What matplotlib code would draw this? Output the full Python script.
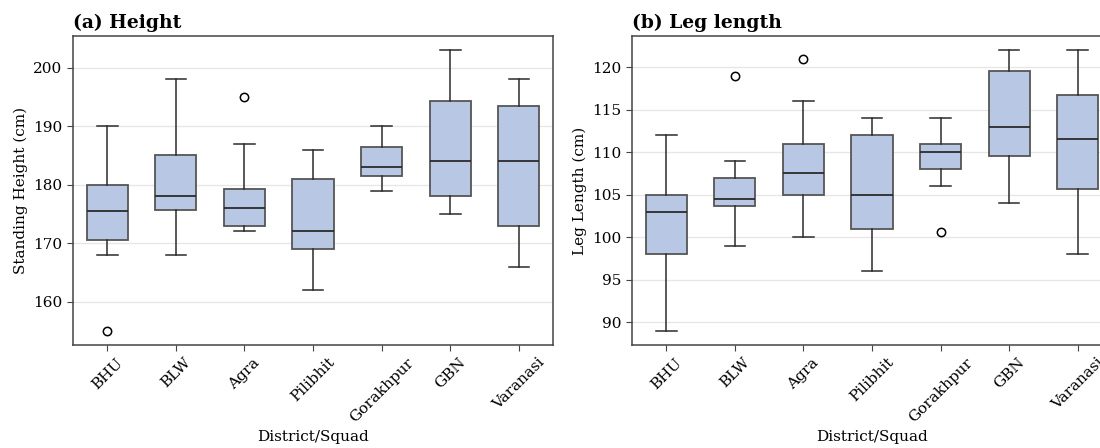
import matplotlib
matplotlib.use("Agg")
from matplotlib import pyplot as plt

# values
districts = ["BHU", "BLW", "Agra", "Pilibhit", "Gorakhpur", "GBN", "Varanasi"]

# standing height (cm)
h_low = [168, 168, 172, 162, 179, 175, 166]
h_q1 = [170.5, 175.7, 173, 169, 181.5, 178, 173]
h_med = [175.5, 178, 176, 172, 183, 184, 184]
h_q3 = [180, 185, 179.2, 181, 186.4, 194.3, 193.4]
h_high = [190, 198, 187, 186, 190, 203, 198]
h_out = [[155], [], [195], [], [], [], []]

# leg length (cm)
l_low = [89, 99, 100, 96, 106, 104, 98]
l_q1 = [98, 103.7, 105, 101, 108, 109.5, 105.7]
l_med = [103, 104.5, 107.5, 105, 110, 113, 111.5]
l_q3 = [105, 107, 111, 112, 111, 119.5, 116.7]
l_high = [112, 109, 116, 114, 114, 122, 122]
l_out = [[], [119], [121], [], [100.6], [], []]

plt.rcParams["font.family"] = ["DejaVu Serif"]
plt.rcParams["font.size"] = 11

fill = "#b8c7e4"
edge = "#555555"
dark = "#2b2b2b"


def make_stats(low, q1, med, q3, high, out):
    stats = []
    for i in range(len(low)):
        stats.append({"whislo": low[i], "q1": q1[i], "med": med[i], "q3": q3[i],
                      "whishi": high[i], "fliers": out[i], "label": districts[i]})
    return stats


def draw(ax, stats, title, ylabel):
    ax.bxp(stats, positions=range(len(stats)), widths=0.6, patch_artist=True,
           boxprops=dict(facecolor=fill, edgecolor=edge, linewidth=1.3),
           medianprops=dict(color=dark, linewidth=1.3),
           whiskerprops=dict(color=dark, linewidth=1.1),
           capprops=dict(color=dark, linewidth=1.1),
           flierprops=dict(marker="o", markerfacecolor="white", markeredgecolor="black",
                           markersize=6, markeredgewidth=1.1))
    ax.set_xlim(-0.5, len(stats) - 0.5)
    ax.margins(y=0.05)
    ax.grid(axis="y", color="#e6e6e6", linewidth=0.9)
    ax.set_axisbelow(True)
    for s in ax.spines.values():
        s.set_color("#444444")
        s.set_linewidth(1.1)
    ax.tick_params(axis="both", color="#444444", length=4)
    ax.set_xticks(range(len(stats)))
    ax.set_xticklabels(districts, rotation=45)
    ax.set_title(title, loc="left", fontweight="bold", fontsize=13.5)
    ax.set_ylabel(ylabel)
    ax.set_xlabel("District/Squad")


fig = plt.figure(figsize=(11, 4.48), dpi=100)
ax1 = fig.add_axes([0.0664, 0.2299, 0.4364, 0.6897])
ax2 = fig.add_axes([0.5745, 0.2299, 0.4364, 0.6897])

draw(ax1, make_stats(h_low, h_q1, h_med, h_q3, h_high, h_out), "(a) Height", "Standing Height (cm)")
draw(ax2, make_stats(l_low, l_q1, l_med, l_q3, l_high, l_out), "(b) Leg length", "Leg Length (cm)")
ax1.set_yticks([160, 170, 180, 190, 200])
ax2.set_yticks([90, 95, 100, 105, 110, 115, 120])

plt.savefig("out.png", dpi=100)
